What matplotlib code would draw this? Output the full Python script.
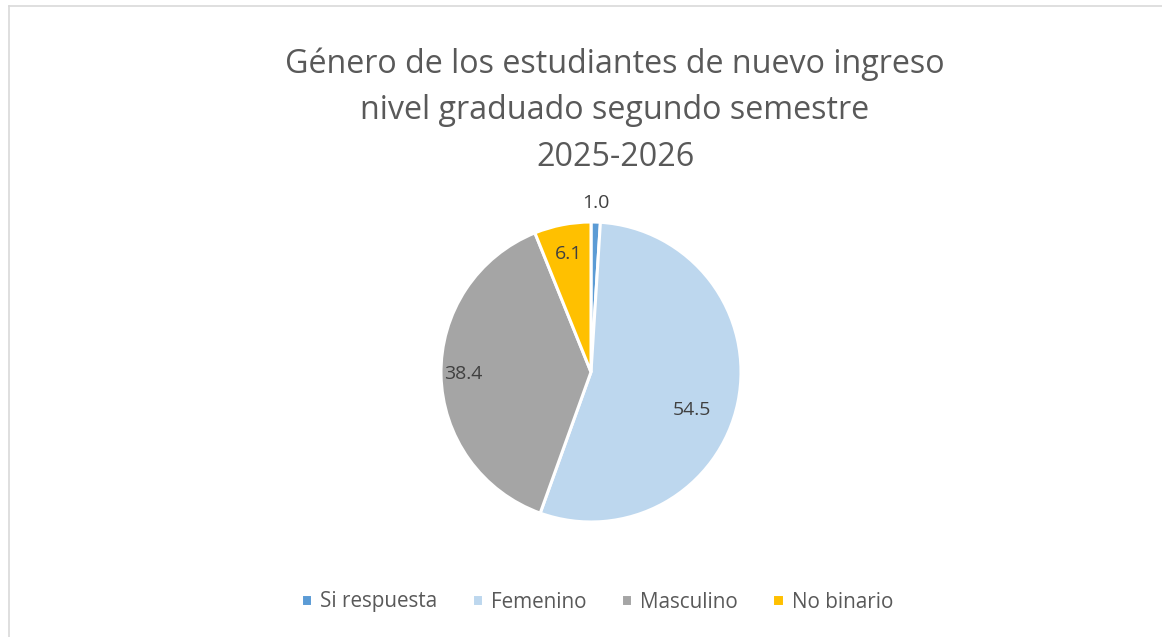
import matplotlib.pyplot as plt
import numpy as np
from matplotlib.lines import Line2D

# data
categories = ['Si respuesta', 'Femenino', 'Masculino', 'No binario']
values = [1.0, 54.5, 38.4, 6.1]
colors = ['#5B9BD5', '#BDD7EE', '#A5A5A5', '#FFC000']
# label placement: fraction of radius, angle shift from wedge middle (deg)
label_r = [1.13, 0.72, 0.85, 0.80]
label_shift = [0, -9, 0, 0]

plt.rcParams['font.family'] = ['Open Sans', 'DejaVu Sans']

W, H = 1162, 637
fig = plt.figure(figsize=(W / 100, H / 100), dpi=100)

# chart area border (only top and left edges visible)
bx, by = 8.5 / W, 1 - 5.5 / H
fig.add_artist(Line2D([bx, 1.01], [by, by], transform=fig.transFigure, color='#D9D9D9', lw=1.2))
fig.add_artist(Line2D([bx, bx], [-0.01, by], transform=fig.transFigure, color='#D9D9D9', lw=1.2))

fig.text(615 / W, 1 - 110.5 / H,
         'Género de los estudiantes de nuevo ingreso\nnivel graduado segundo semestre\n2025-2026',
         ha='center', va='center', fontsize=23.2, color='#595959', linespacing=1.53)

ax = fig.add_axes([441 / W, 115 / H, 300 / W, 300 / H])
wedges, _ = ax.pie(values, colors=colors, startangle=90, counterclock=False,
                   wedgeprops=dict(edgecolor='white', linewidth=2.2))
ax.set_xlim(-1, 1)
ax.set_ylim(-1, 1)
ax.set_aspect('equal')
ax.axis('off')

for w, v, r, s in zip(wedges, values, label_r, label_shift):
    ang = np.deg2rad((w.theta1 + w.theta2) / 2 + s)
    ax.text(r * np.cos(ang), r * np.sin(ang), '{:.1f}'.format(v),
            ha='center', va='center', fontsize=14, color='#404040', clip_on=False)

fig.legend(wedges, categories, loc='center', bbox_to_anchor=(597 / W, 1 - 602 / H),
           ncol=4, frameon=False, fontsize=14.9, labelcolor='#595959',
           handlelength=0.55, handleheight=0.55, handletextpad=0.4, columnspacing=1.65)

fig.savefig('out.png', dpi=100)
